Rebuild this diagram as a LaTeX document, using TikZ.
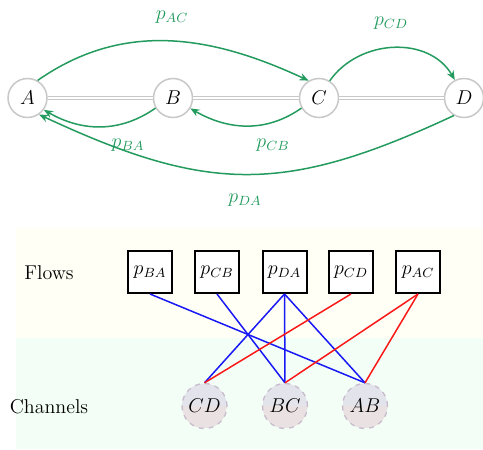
\documentclass[tikz,border=0pt]{standalone}
\usetikzlibrary{arrows.meta}
\definecolor{pgreen}{RGB}{36,155,94}
\definecolor{nodegray}{RGB}{200,200,200}
\definecolor{bandY}{RGB}{255,255,245}
\definecolor{bandG}{RGB}{243,255,246}
\definecolor{chantop}{RGB}{227,227,236}
\definecolor{chanbot}{RGB}{234,225,227}
\definecolor{chanborder}{RGB}{200,188,205}
\definecolor{eblue}{RGB}{25,25,245}
\definecolor{ered}{RGB}{250,25,25}
\begin{document}
\begin{tikzpicture}[x=0.6pt,y=-0.6pt,font=\large,
  city/.style={circle,draw=nodegray,line width=0.9pt,fill=white,minimum size=23.4pt,inner sep=0pt},
  link/.style={draw=nodegray,double=white,double distance=0.9pt,line width=0.75pt},
  flowarrow/.style={pgreen,line width=0.9pt,-{Stealth[length=5.5pt,width=4.5pt]}},
  flowlabel/.style={text=pgreen},
  flowbox/.style={draw=black,line width=1.2pt,fill=white,minimum width=26.4pt,minimum height=25.2pt,inner sep=0pt},
  chan/.style={circle,draw=chanborder,dashed,line width=0.8pt,minimum size=27pt,inner sep=0pt,
    path picture={\fill[chantop] (path picture bounding box.north west) rectangle (path picture bounding box.east);
                  \fill[chanbot] (path picture bounding box.west) rectangle (path picture bounding box.south east);}},
  bedge/.style={eblue,line width=0.9pt},
  redge/.style={ered,line width=0.9pt}]
\useasboundingbox (0,0) rectangle (483,450);

% top graph
\node[city] (A) at (27.5,98) {$A$};
\node[city] (B) at (173,98) {$B$};
\node[city] (C) at (319,98) {$C$};
\node[city] (D) at (464,98) {$D$};
\draw[link] (A) -- (B);
\draw[link] (B) -- (C);
\draw[link] (C) -- (D);

\draw[flowarrow] (A.60) to[out=35,in=155] (C.121);
\draw[flowarrow] (C.58) to[out=55,in=120,looseness=1.05] (D.117);
\draw[flowarrow] (B.-150) to[out=-145,in=-30] (A.-36);
\draw[flowarrow] (C.-150) to[out=-145,in=-30] (B.-31);
\draw[flowarrow] (D.-120) to[out=-155,in=-25,looseness=1.15] (A.-55);

\node[flowlabel] (lAC) at (172,17) {$p_{AC}$};
\node[flowlabel] (lCD) at (391,23) {$p_{CD}$};
\node[flowlabel] (lBA) at (128,145) {$p_{BA}$};
\node[flowlabel] (lCB) at (273,145) {$p_{CB}$};
\node[flowlabel] (lDA) at (245,200) {$p_{DA}$};

% bands
\fill[bandY] (16,228) rectangle (483,338);
\fill[bandG] (16,338) rectangle (483,449);

\node (flows) at (49,273) {Flows};
\node (chans) at (49,407) {Channels};

\node[flowbox] (fBA) at (150,272) {$p_{BA}$};
\node[flowbox] (fCB) at (217,272) {$p_{CB}$};
\node[flowbox] (fDA) at (284.5,272) {$p_{DA}$};
\node[flowbox] (fCD) at (351,272) {$p_{CD}$};
\node[flowbox] (fAC) at (418,272) {$p_{AC}$};

\node[chan] (cCD) at (204.5,406) {$CD$};
\node[chan] (cBC) at (285,406) {$BC$};
\node[chan] (cAB) at (365,406) {$AB$};

\draw[bedge] (fBA.south) -- (cAB.north);
\draw[bedge] (fCB.south) -- (cBC.north);
\draw[bedge] (fDA.south) -- (cCD.north);
\draw[bedge] (fDA.south) -- (cBC.north);
\draw[bedge] (fDA.south) -- (cAB.north);
\draw[redge] (fCD.south) -- (cCD.north);
\draw[redge] (fAC.south) -- (cBC.north);
\draw[redge] (fAC.south) -- (cAB.north);
\end{tikzpicture}
\end{document}
